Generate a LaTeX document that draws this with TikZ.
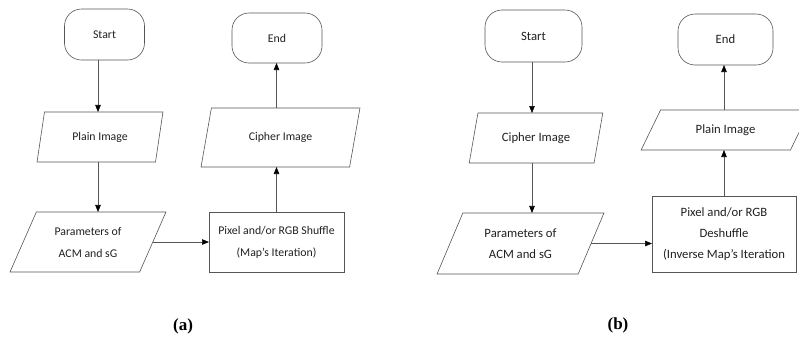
\documentclass[tikz,border=0pt]{standalone}
\usepackage{fontspec}
\newfontfamily\calfont{Carlito}
\newfontfamily\capfont{Liberation Serif}
\usetikzlibrary{shapes.geometric,arrows.meta}
\definecolor{linegray}{HTML}{555555}
\definecolor{textgray}{HTML}{202020}
\tikzset{
  base/.style={draw=linegray, line width=0.6pt, text=textgray,
    font=\calfont\fontsize{11.8}{22}\selectfont, align=center,
    inner sep=0pt, outer sep=0pt},
  bigtext/.style={font=\calfont\fontsize{12.7}{21}\selectfont},
  term/.style={base, rectangle, rounded corners=17pt},
  io/.style={base, trapezium, trapezium stretches=true},
  proc/.style={base, rectangle},
  conn/.style={draw=linegray, line width=0.6pt,
    -{Triangle[length=7pt,width=5.5pt,color=black]}},
  captext/.style={font=\capfont\bfseries\fontsize{17}{20}\selectfont, text=black, inner sep=0pt}
}
\begin{document}
\begin{tikzpicture}[x=1pt,y=-1pt]
\useasboundingbox (0,0) rectangle (799,338);
\clip (0,0) rectangle (799,338);

% ---------- panel (a) ----------
\node[term, minimum width=80, minimum height=51] (sa) at (104.5,34.5) {Start};
\node[io, minimum width=126, minimum height=50,
  trapezium left angle=70, trapezium right angle=110] (pa) at (100,137) {Plain Image};
\node[io, minimum width=156, minimum height=60,
  trapezium left angle=60.5, trapezium right angle=119.5] (qa) at (88,242) {Parameters of\\ACM and sG};
\node[proc, minimum width=135, minimum height=60] (ha) at (276.5,242) {Pixel and/or RGB Shuffle\\(Map’s Iteration)};
\node[io, minimum width=159, minimum height=59,
  trapezium left angle=65, trapezium right angle=115] (ca) at (280.5,137.5) {Cipher Image};
\node[term, minimum width=90, minimum height=50] (ea) at (277,38) {End};
\node[captext] (la) at (183,326) {(a)};

\coordinate (xa) at (98,0);
\draw[conn] (sa.south -| xa) -- (pa.north -| xa);
\draw[conn] (pa.south -| xa) -- (qa.north -| xa);
\draw[conn] (qa.east) -- (ha.west |- qa.east);
\draw[conn] (ha.north) -- (ca.south -| ha.north);
\draw[conn] (ca.north -| ha.north) -- (ea.south -| ha.north);

% ---------- panel (b) ----------
\node[term, bigtext, minimum width=97, minimum height=52] (sb) at (533.5,36) {Start};
\node[io, bigtext, minimum width=134, minimum height=50,
  trapezium left angle=65, trapezium right angle=115] (cb) at (536,138) {Cipher Image};
\node[io, bigtext, minimum width=167, minimum height=61,
  trapezium left angle=61.6, trapezium right angle=118.4] (qb) at (520.5,243.5) {Parameters of\\ACM and sG};
\node[proc, bigtext, minimum width=144, minimum height=76] (hb) at (724,234) {Pixel and/or RGB\\Deshuffle\\(Inverse Map’s Iteration};
\node[io, bigtext, minimum width=169, minimum height=40,
  trapezium left angle=51, trapezium right angle=129] (pb) at (725.5,130) {Plain Image};
\node[term, bigtext, minimum width=95, minimum height=51] (eb) at (725.5,39.5) {End};
\node[captext] (lb) at (618,325) {(b)};

\coordinate (xb) at (532,0);
\draw[conn] (sb.south -| xb) -- (cb.north -| xb);
\draw[conn] (cb.south -| xb) -- (qb.north -| xb);
\draw[conn] (qb.east) -- (hb.west |- qb.east);
\draw[conn] (hb.north) -- (pb.south -| hb.north);
\draw[conn] (pb.north -| hb.north) -- (eb.south -| hb.north);
\end{tikzpicture}
\end{document}
